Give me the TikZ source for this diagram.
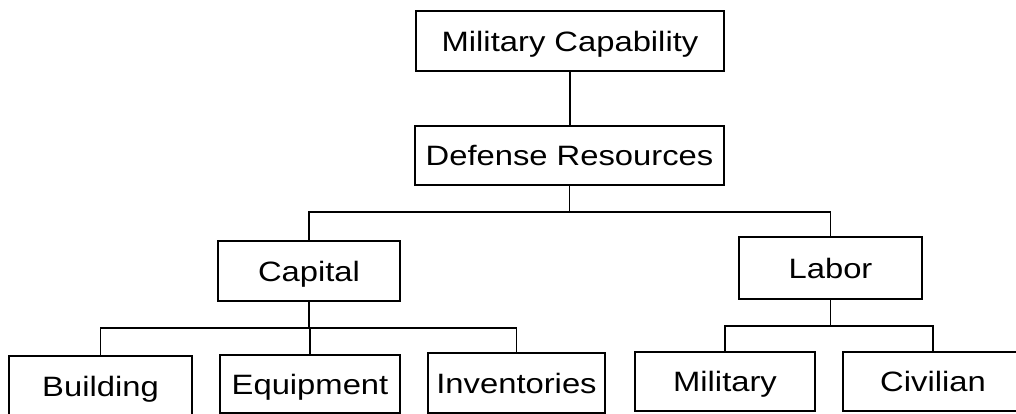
\documentclass[tikz,border=0pt]{standalone}
\usepackage{fontspec}
\setmainfont{Liberation Sans}
\newcommand{\wt}[1]{\scalebox{1.17}[1]{#1}}
\begin{document}
\begin{tikzpicture}[x=1pt,y=-1pt,
  box/.style={draw,line width=1.8pt,inner sep=0pt,text height=20pt,text depth=0pt,
    font=\fontsize{28}{32}\selectfont},
  conn/.style={line width=1.8pt}]
\useasboundingbox (0,0) rectangle (1016,413);
\clip (0,0) rectangle (1016,413);
\node[box,minimum width=308pt,minimum height=60pt] (mc) at (570,41) {\wt{Military Capability}};
\node[box,minimum width=309pt,minimum height=59pt] (dr) at (569.5,155.5) {\wt{Defense Resources}};
\node[box,minimum width=182pt,minimum height=60pt] (cap) at (309,271) {\wt{Capital}};
\node[box,minimum width=183pt,minimum height=62pt] (lab) at (830.5,268) {\wt{Labor}};
\node[box,minimum width=183pt,minimum height=60pt] (bld) at (100.5,386) {\wt{Building}};
\node[box,minimum width=180pt,minimum height=58pt] (eqp) at (310,384) {\wt{Equipment}};
\node[box,minimum width=177pt,minimum height=60pt] (inv) at (516.5,383) {\wt{Inventories}};
\node[box,minimum width=180pt,minimum height=59pt] (mil) at (725,381.5) {\wt{Military}};
\node[box,minimum width=180pt,minimum height=59pt] (civ) at (933,381.5) {\wt{Civilian}};
\coordinate (j1) at (569.5,212);
\coordinate (j2) at (309,328);
\coordinate (j3) at (830.5,326);
\draw[conn] (mc.south) -- (mc.south |- dr.north);
\draw[conn] (dr.south) -- (j1);
\draw[conn] (cap.north) |- (j1) -| (lab.north);
\draw[conn] (cap.south) -- (j2);
\draw[conn] (bld.north) |- (j2) -| (inv.north);
\draw[conn] (eqp.north) -- (eqp.north |- j2);
\draw[conn] (lab.south) -- (j3);
\draw[conn] (mil.north) |- (j3) -| (civ.north);
\end{tikzpicture}
\end{document}
